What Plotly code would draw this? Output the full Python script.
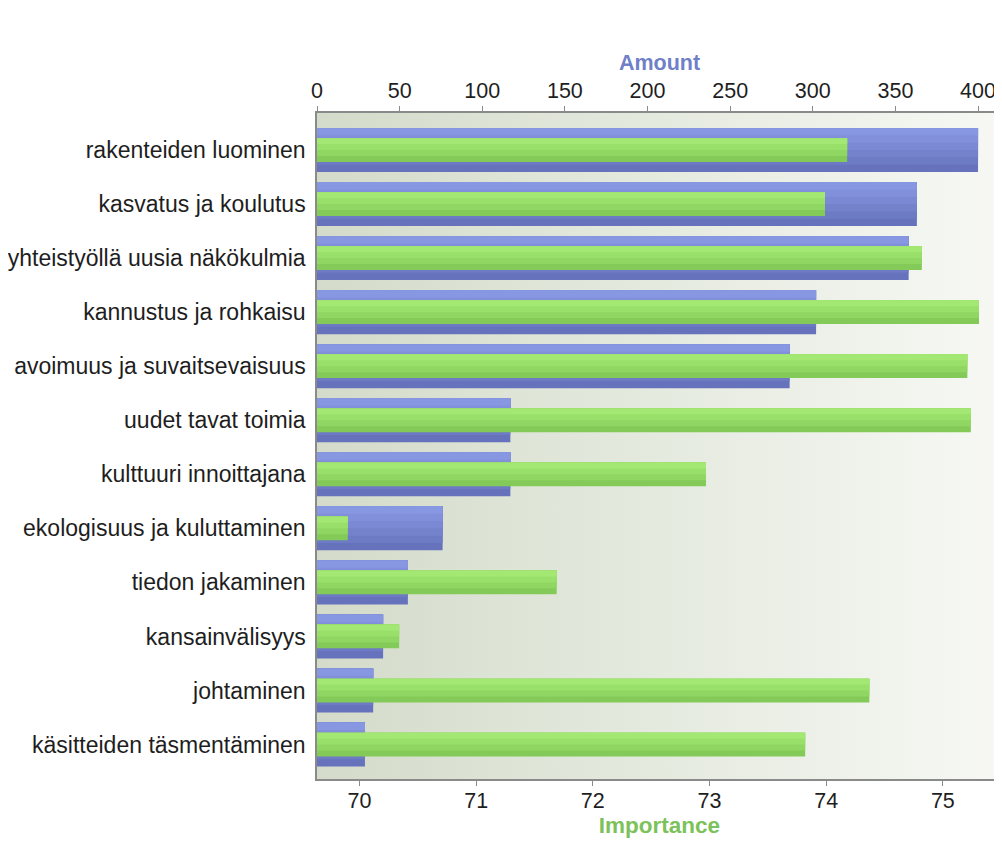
import base64
import plotly.graph_objects as go

categories = [
    "rakenteiden luominen",
    "kasvatus ja koulutus",
    "yhteistyöllä uusia näkökulmia",
    "kannustus ja rohkaisu",
    "avoimuus ja suvaitsevaisuus",
    "uudet tavat toimia",
    "kulttuuri innoittajana",
    "ekologisuus ja kuluttaminen",
    "tiedon jakaminen",
    "kansainvälisyys",
    "johtaminen",
    "käsitteiden täsmentäminen",
]
amount = [400, 363, 358, 302, 286, 117, 117, 76, 55, 40, 34, 29]
importance = [74.18, 73.99, 74.82, 75.31, 75.21, 75.24, 72.97, 69.90, 71.69, 70.34, 74.37, 73.82]

amount_ticks = [0, 50, 100, 150, 200, 250, 300, 350, 400]
importance_ticks = [70, 71, 72, 73, 74, 75]

# shades listed from bottom (dark) to top (light)
blue_shades = ["#6672bc", "#6d7ac4", "#7482cc", "#7b89d4", "#8290db", "#8897e2"]
green_shades = ["#84ca58", "#8fd663", "#99e06b", "#a3e873"]

FONT = "Liberation Sans, Arial, sans-serif"

fig = go.Figure()

# Amount bars (base axis, top side) – overlapping layers mimic a vertical gradient
bw = 0.814
n = len(blue_shades)
for k, col in enumerate(blue_shades):
    fig.add_trace(go.Bar(
        y=categories, x=amount, orientation="h", xaxis="x", yaxis="y",
        width=bw * (n - k) / n, offset=-bw / 2,
        marker=dict(color=col, line=dict(width=0)),
        showlegend=False, hoverinfo="skip",
    ))

# Importance bars (overlay axis, bottom side) – drawn above the Amount bars
gw = 0.44
m = len(green_shades)
for k, col in enumerate(green_shades):
    fig.add_trace(go.Bar(
        y=categories, x=importance, orientation="h", xaxis="x2", yaxis="y",
        width=gw * (m - k) / m, offset=-gw / 2,
        marker=dict(color=col, line=dict(width=0)),
        showlegend=False, hoverinfo="skip",
    ))

svg = (
    '<svg xmlns="http://www.w3.org/2000/svg" width="100" height="100" preserveAspectRatio="none">'
    '<defs><linearGradient id="g" x1="0" y1="0" x2="1" y2="0">'
    '<stop offset="0" stop-color="#d4dbca"/>'
    '<stop offset="0.5" stop-color="#e5eadf"/>'
    '<stop offset="1" stop-color="#f7f8f4"/>'
    '</linearGradient></defs>'
    '<rect width="100" height="100" fill="url(#g)"/></svg>'
)
bg_src = "data:image/svg+xml;base64," + base64.b64encode(svg.encode()).decode()

axis_common = dict(
    showgrid=False, zeroline=False, showline=True, linecolor="#8a8a8a", linewidth=1.5,
    ticks="outside", ticklen=5, tickcolor="#8a8a8a", automargin=False,
    tickfont=dict(family=FONT, size=21.5, color="#1e1e1e"),
)

# the page adds an 8px body margin, so the figure is sized/offset to compensate
fig.update_layout(
    width=994, height=833,
    margin=dict(l=309, r=0, t=105, b=62),
    paper_bgcolor="white",
    plot_bgcolor="rgba(0,0,0,0)",
    barmode="overlay",
    images=[dict(source=bg_src, xref="paper", yref="paper", x=0, y=1,
                 sizex=1, sizey=1, sizing="stretch", layer="below",
                 xanchor="left", yanchor="top")],
    xaxis=dict(
        range=[0, 414.5], tickvals=amount_ticks, side="top",
        title=dict(text="<b>Amount</b>", standoff=2,
                   font=dict(family=FONT, size=21.5, color="#6f7fc8")),
        **axis_common,
    ),
    xaxis2=dict(
        range=[69.636, 75.507], tickvals=importance_ticks, overlaying="x", side="bottom",
        ticklabelstandoff=-4,
        title=dict(text="<b>Importance</b>", standoff=6,
                   font=dict(family=FONT, size=22.5, color="#7cc25a")),
        **axis_common,
    ),
    yaxis=dict(
        type="category", categoryorder="array", categoryarray=categories,
        range=[11.637, -0.685], automargin=False,
        showgrid=False, zeroline=False, showline=True, linecolor="#8a8a8a", linewidth=1.5,
        ticks="", ticklabelstandoff=5,
        tickfont=dict(family=FONT, size=23, color="#1e1e1e"),
    ),
)

fig.write_html("out.html")
